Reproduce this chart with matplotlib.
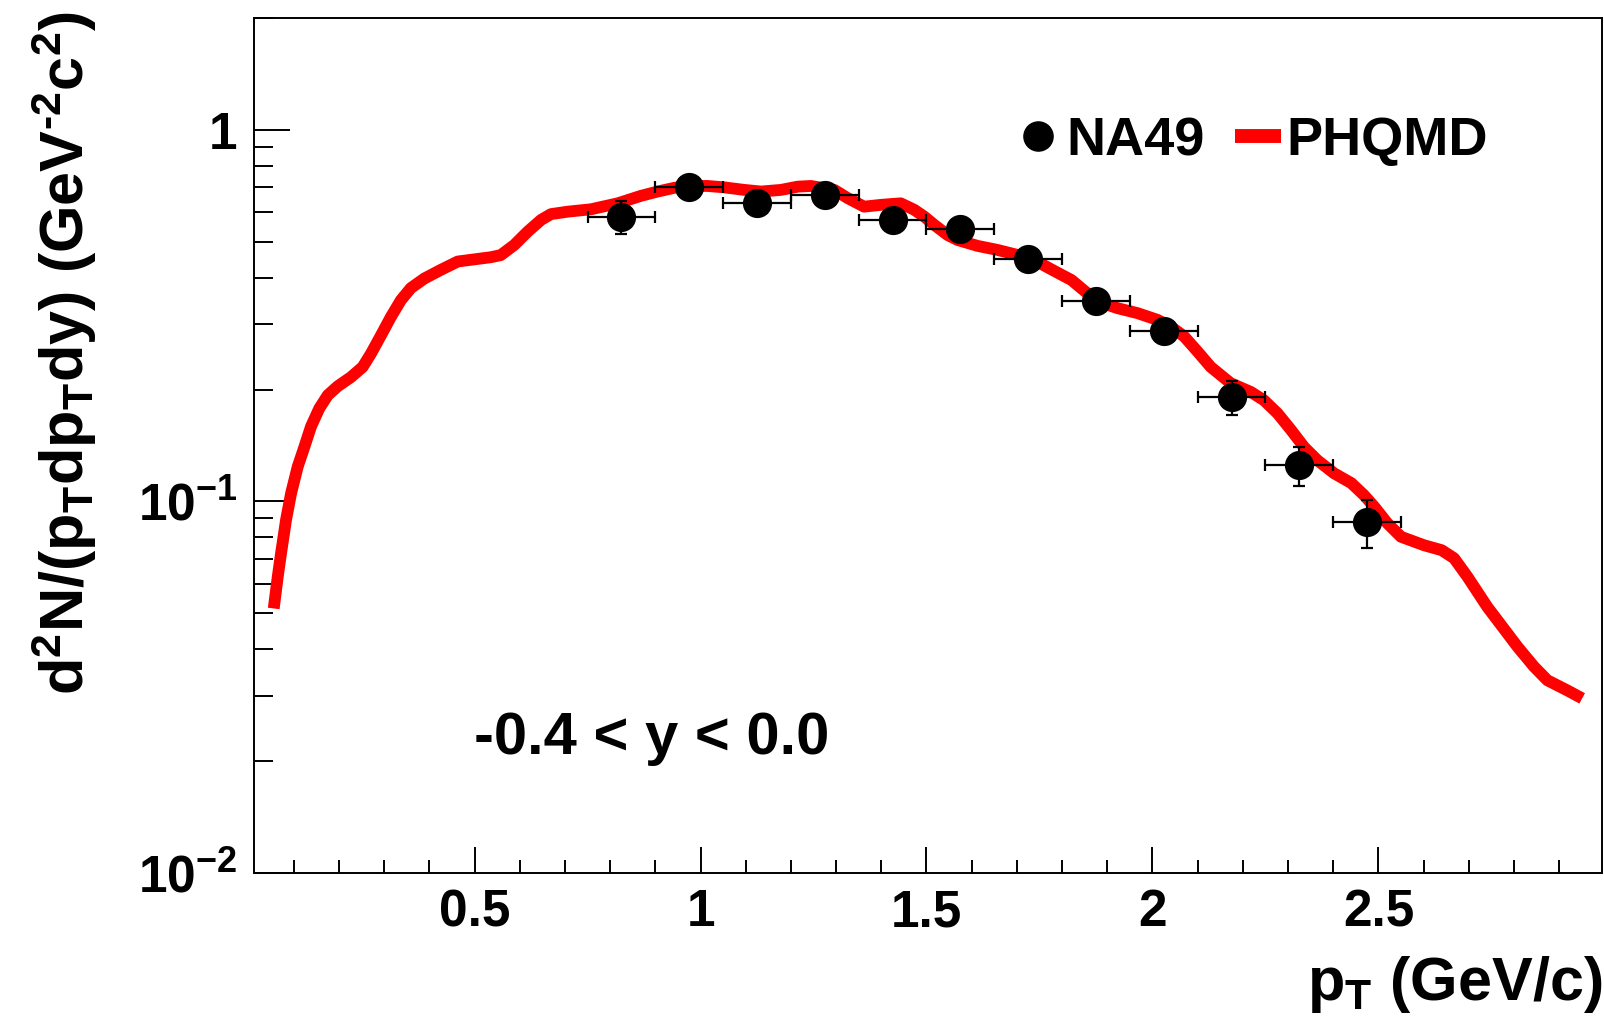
import matplotlib
matplotlib.use("Agg")
import matplotlib.pyplot as plt
from matplotlib.ticker import FixedLocator, MultipleLocator, LogLocator, NullFormatter
from matplotlib.lines import Line2D

plt.rcParams['font.family'] = ['Liberation Sans', 'DejaVu Sans']
plt.rcParams['font.weight'] = 'bold'
plt.rcParams['mathtext.fontset'] = 'custom'
plt.rcParams['mathtext.rm'] = 'Liberation Sans:bold'
plt.rcParams['mathtext.bf'] = 'Liberation Sans:bold'
plt.rcParams['mathtext.default'] = 'regular'

# NA49 measured spectrum, -0.4 < y < 0.0
na49_pt = [0.825, 0.975, 1.125, 1.275, 1.425, 1.575, 1.725, 1.875, 2.025, 2.175, 2.325, 2.475]
na49_yield = [0.583, 0.701, 0.637, 0.667, 0.572, 0.541, 0.450, 0.347, 0.288, 0.191, 0.125, 0.088]
na49_yerr = [0.060, 0.030, 0.030, 0.030, 0.028, 0.027, 0.022, 0.017, 0.015, 0.020, 0.015, 0.013]
na49_xerr = [0.075] * len(na49_pt)

# PHQMD calculation
phqmd_pt = [0.0555, 0.0644, 0.0717, 0.0827, 0.0938, 0.1086, 0.1232, 0.138, 0.1564, 0.175,
            0.197, 0.2265, 0.2524, 0.2708, 0.293, 0.315, 0.337, 0.359, 0.389, 0.4257,
            0.4626, 0.4993, 0.536, 0.558, 0.588, 0.6175, 0.647, 0.669, 0.706, 0.7575,
            0.8166, 0.868, 0.905, 0.942, 0.979, 1.0157, 1.052, 1.0967, 1.134, 1.178,
            1.215, 1.244, 1.296, 1.3254, 1.362, 1.399, 1.443, 1.473, 1.495, 1.517,
            1.5467, 1.569, 1.613, 1.657, 1.731, 1.778, 1.821, 1.849, 1.879, 1.923,
            1.967, 2.011, 2.041, 2.070, 2.0998, 2.129, 2.173, 2.2177, 2.247, 2.2767,
            2.306, 2.3356, 2.365, 2.402, 2.440, 2.468, 2.491, 2.520, 2.550, 2.601,
            2.640, 2.6675, 2.697, 2.741, 2.808, 2.8445, 2.874, 2.918, 2.951]
phqmd_yield = [0.0515, 0.0627, 0.0725, 0.0891, 0.105, 0.124, 0.140, 0.159, 0.178, 0.193,
               0.204, 0.216, 0.230, 0.250, 0.280, 0.314, 0.348, 0.375, 0.398, 0.420,
               0.442, 0.448, 0.454, 0.460, 0.490, 0.532, 0.572, 0.593, 0.602, 0.611,
               0.634, 0.664, 0.682, 0.698, 0.706, 0.706, 0.700, 0.689, 0.682, 0.689,
               0.703, 0.706, 0.689, 0.655, 0.621, 0.628, 0.634, 0.609, 0.584, 0.555,
               0.521, 0.505, 0.487, 0.475, 0.451, 0.420, 0.394, 0.369, 0.345, 0.331,
               0.321, 0.308, 0.295, 0.278, 0.253, 0.230, 0.208, 0.197, 0.187, 0.1726,
               0.156, 0.140, 0.129, 0.119, 0.112, 0.104, 0.0967, 0.0873, 0.0803, 0.0762,
               0.0739, 0.0703, 0.0627, 0.052, 0.0406, 0.0359, 0.033, 0.031, 0.0295]

x_ticks = [0.5, 1.0, 1.5, 2.0, 2.5]
x_tick_labels = ['0.5', '1', '1.5', '2', '2.5']
y_ticks = [0.01, 0.1, 1.0]
y_tick_labels = [r'10$^{-2}$', r'10$^{-1}$', '1']

fig = plt.figure(figsize=(16.04, 10.24), dpi=100)
ax = fig.add_axes([0.1584, 0.1475, 0.8404, 0.8350])

ax.plot(phqmd_pt, phqmd_yield, color='#ff0000', lw=8.5, solid_joinstyle='round',
        solid_capstyle='butt', zorder=2)
ax.errorbar(na49_pt, na49_yield, xerr=na49_xerr, yerr=na49_yerr, fmt='o', color='black',
            ms=20, elinewidth=1.6, capsize=4.5, capthick=1.6, zorder=3)

ax.set_yscale('log')
ax.set_xlim(0.012, 2.995)
ax.set_ylim(0.01, 2.0)

ax.xaxis.set_major_locator(FixedLocator(x_ticks))
ax.set_xticklabels(x_tick_labels)
ax.xaxis.set_minor_locator(MultipleLocator(0.1))
ax.yaxis.set_major_locator(FixedLocator(y_ticks))
ax.set_yticklabels(y_tick_labels)
ax.yaxis.set_minor_locator(LogLocator(base=10, subs=range(2, 10)))
ax.yaxis.set_minor_formatter(NullFormatter())

ax.tick_params(axis='both', which='both', direction='in', top=False, right=False,
               width=1.4, labelsize=37)
ax.tick_params(axis='x', which='major', length=19, pad=11)
ax.tick_params(axis='x', which='minor', length=9.5)
ax.tick_params(axis='y', which='major', length=26, pad=12)
ax.tick_params(axis='y', which='minor', length=14)
for s in ax.spines.values():
    s.set_linewidth(1.4)

ax.set_xlabel(r'p$_{T}$ (GeV/c)', fontsize=44, fontweight='bold', loc='right')
ax.xaxis.set_label_coords(1.0, -0.13)
ax.xaxis.label.set_va('center')
ax.set_ylabel(r'd$^{2}$N/(p$_{T}$dp$_{T}$dy) (GeV$^{\text{-}2}$c$^{2}$)', fontsize=44,
              fontweight='bold', loc='top')
ax.yaxis.set_label_coords(-0.141, 1.008)
ax.yaxis.label.set_va('center')

ax.text(0.163, 0.157, '-0.4 < y < 0.0', transform=ax.transAxes, fontsize=43,
        fontweight='bold', va='center', ha='left')

handles = [
    Line2D([], [], marker='o', color='black', ls='none', ms=21),
    Line2D([], [], color='#ff0000', lw=10, solid_capstyle='butt'),
]
ax.legend(handles, ['NA49', 'PHQMD'], loc='center right', bbox_to_anchor=(0.915, 0.856),
          ncol=2, frameon=False, fontsize=39, handlelength=0.85, handletextpad=0.1,
          columnspacing=0.55, borderpad=0, borderaxespad=0)

fig.savefig('out.png', dpi=100)
